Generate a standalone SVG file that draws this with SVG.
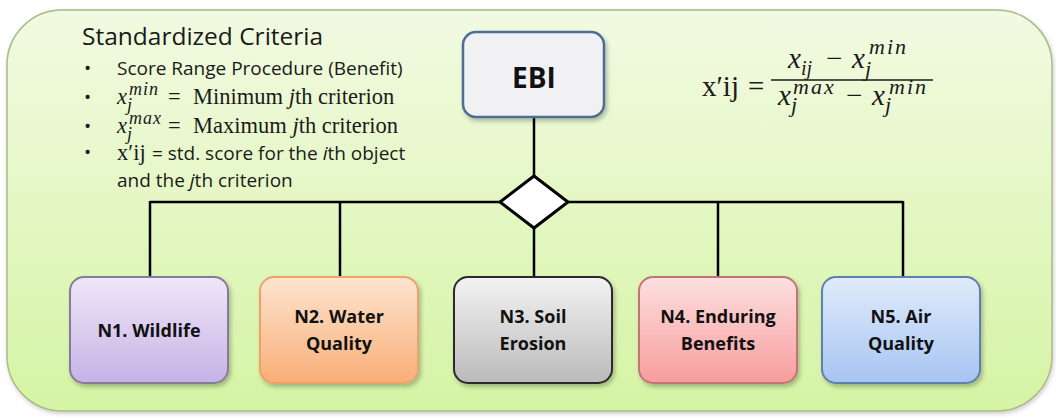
<svg xmlns="http://www.w3.org/2000/svg" width="1056" height="419" viewBox="0 0 1056 419">
<defs>
<linearGradient id="bg" x1="0" y1="0" x2="0" y2="1"><stop offset="0" stop-color="#f2fae2"/><stop offset="1" stop-color="#d5f4a4"/></linearGradient>
<linearGradient id="gN1" x1="0" y1="0" x2="0" y2="1"><stop offset="0" stop-color="#efe7f8"/><stop offset="1" stop-color="#c6b2e6"/></linearGradient>
<linearGradient id="gN2" x1="0" y1="0" x2="0" y2="1"><stop offset="0" stop-color="#fde5cf"/><stop offset="1" stop-color="#f9ae78"/></linearGradient>
<linearGradient id="gN3" x1="0" y1="0" x2="0" y2="1"><stop offset="0" stop-color="#f3f3f3"/><stop offset="1" stop-color="#bababa"/></linearGradient>
<linearGradient id="gN4" x1="0" y1="0" x2="0" y2="1"><stop offset="0" stop-color="#fde0e0"/><stop offset="1" stop-color="#f79c9c"/></linearGradient>
<linearGradient id="gN5" x1="0" y1="0" x2="0" y2="1"><stop offset="0" stop-color="#e0ebfb"/><stop offset="1" stop-color="#a6c4f2"/></linearGradient>
<filter id="sh" x="-10%" y="-10%" width="130%" height="130%"><feDropShadow dx="2" dy="3" stdDeviation="2" flood-color="#000" flood-opacity="0.25"/></filter>
<filter id="shbg" x="-5%" y="-5%" width="110%" height="110%"><feDropShadow dx="1" dy="2" stdDeviation="2" flood-color="#000" flood-opacity="0.2"/></filter>
</defs>
<style>
.sans{font-family:"Open Sans","Liberation Sans",sans-serif;fill:#1a1a1a}
.ser{font-family:"Liberation Serif","DejaVu Serif",serif;fill:#1a1a1a}
.it{font-style:italic}
.sc{font-style:italic;font-size:18px;letter-spacing:1px}
.fs{font-style:italic;font-size:22px;letter-spacing:2px}
.lbl{font-family:"Open Sans","Liberation Sans",sans-serif;font-weight:bold;font-size:18px;fill:#111;text-anchor:middle}
.node{stroke-width:2}
.conn line{stroke:#000;stroke-width:2.5}
</style>
<rect x="7" y="10" width="1045" height="401" rx="55" fill="url(#bg)" stroke="#a9ba86" stroke-width="1.5" filter="url(#shbg)"/>

<g id="text-criteria">
<text class="sans" x="82" y="45" font-size="24.5">Standardized Criteria</text>
<g class="sans" font-size="19">
<text x="84" y="75">•</text><text x="84" y="104">•</text><text x="84" y="133">•</text><text x="84" y="159">•</text>
<text x="117" y="75">Score Range Procedure (Benefit)</text>
</g>
<text class="ser" font-size="22.5"><tspan class="it" x="117" y="104">x</tspan><tspan class="sc" x="127" y="111">j</tspan><tspan class="sc" x="129" y="95">min</tspan><tspan x="168" y="104">=</tspan><tspan x="193" y="104">Minimum </tspan><tspan class="it">j</tspan><tspan>th criterion</tspan></text>
<text class="ser" font-size="22.5"><tspan class="it" x="117" y="133">x</tspan><tspan class="sc" x="127" y="140">j</tspan><tspan class="sc" x="129" y="124">max</tspan><tspan x="168" y="133">=</tspan><tspan x="193" y="133">Maximum </tspan><tspan class="it">j</tspan><tspan>th criterion</tspan></text>
<text font-size="19" y="160"><tspan class="ser" x="117" font-size="22.5">x′ij</tspan><tspan class="sans" x="147"> = std. score for the </tspan><tspan class="sans it">i</tspan><tspan class="sans">th object</tspan></text>
<text class="sans" font-size="19" y="187"><tspan x="117">and the </tspan><tspan class="it">j</tspan><tspan>th criterion</tspan></text>
</g>

<g id="formula" class="ser">
<text font-size="29" y="96"><tspan x="702">x′ij</tspan><tspan x="748">=</tspan></text>
<text font-size="29"><tspan class="it" x="788" y="68">x</tspan><tspan class="it" x="801" y="75" font-size="20">ij</tspan><tspan x="826" y="68">−</tspan><tspan class="it" x="852" y="68">x</tspan><tspan class="fs" x="865" y="76">j</tspan><tspan class="fs" x="869" y="54">min</tspan></text>
<line x1="771" y1="80" x2="933" y2="80" stroke="#1a1a1a" stroke-width="1.5"/>
<text font-size="29"><tspan class="it" x="778" y="105">x</tspan><tspan class="fs" x="791" y="112">j</tspan><tspan class="fs" x="793" y="94">max</tspan><tspan x="846" y="105">−</tspan><tspan class="it" x="872" y="105">x</tspan><tspan class="fs" x="885" y="112">j</tspan><tspan class="fs" x="889" y="94">min</tspan></text>
</g>

<g id="connectors" class="conn">
<line x1="534" y1="117" x2="534" y2="180"/>
<line x1="150" y1="202" x2="903" y2="202"/>
<line x1="150" y1="201" x2="150" y2="278"/>
<line x1="340" y1="201" x2="340" y2="278"/>
<line x1="534" y1="225" x2="534" y2="278"/>
<line x1="718" y1="201" x2="718" y2="278"/>
<line x1="903" y1="201" x2="903" y2="278"/>
</g>

<g id="diamond">
<polygon points="534,176 568,202 534,228 500,202" fill="#fff" stroke="#000" stroke-width="3" stroke-linejoin="miter"/>
</g>

<g id="EBI">
<rect x="463" y="32" width="141" height="85" rx="13" fill="#f1f1f4" stroke="#4d6c96" stroke-width="2.5" filter="url(#sh)"/>
<text x="534" y="88" text-anchor="middle" font-family="'Open Sans','Liberation Sans',sans-serif" font-weight="bold" font-size="28" fill="#111">EBI</text>
</g>

<g id="N1">
<rect class="node" x="70" y="277" width="158" height="106" rx="14" fill="url(#gN1)" stroke="#857b99" filter="url(#sh)"/>
<text class="lbl" x="149" y="337">N1. Wildlife</text>
</g>
<g id="N2">
<rect class="node" x="260" y="277" width="158" height="106" rx="14" fill="url(#gN2)" stroke="#eca268" filter="url(#sh)"/>
<text class="lbl" x="339" y="323">N2. Water</text>
<text class="lbl" x="339" y="350">Quality</text>
</g>
<g id="N3">
<rect class="node" x="454" y="277" width="158" height="106" rx="14" fill="url(#gN3)" stroke="#2a2a2a" filter="url(#sh)"/>
<text class="lbl" x="533" y="323">N3. Soil</text>
<text class="lbl" x="533" y="350">Erosion</text>
</g>
<g id="N4">
<rect class="node" x="639" y="277" width="158" height="106" rx="14" fill="url(#gN4)" stroke="#c27575" filter="url(#sh)"/>
<text class="lbl" x="718" y="323">N4. Enduring</text>
<text class="lbl" x="718" y="350">Benefits</text>
</g>
<g id="N5">
<rect class="node" x="822" y="277" width="158" height="106" rx="14" fill="url(#gN5)" stroke="#5f7fae" filter="url(#sh)"/>
<text class="lbl" x="901" y="323">N5. Air</text>
<text class="lbl" x="901" y="350">Quality</text>
</g>
</svg>
